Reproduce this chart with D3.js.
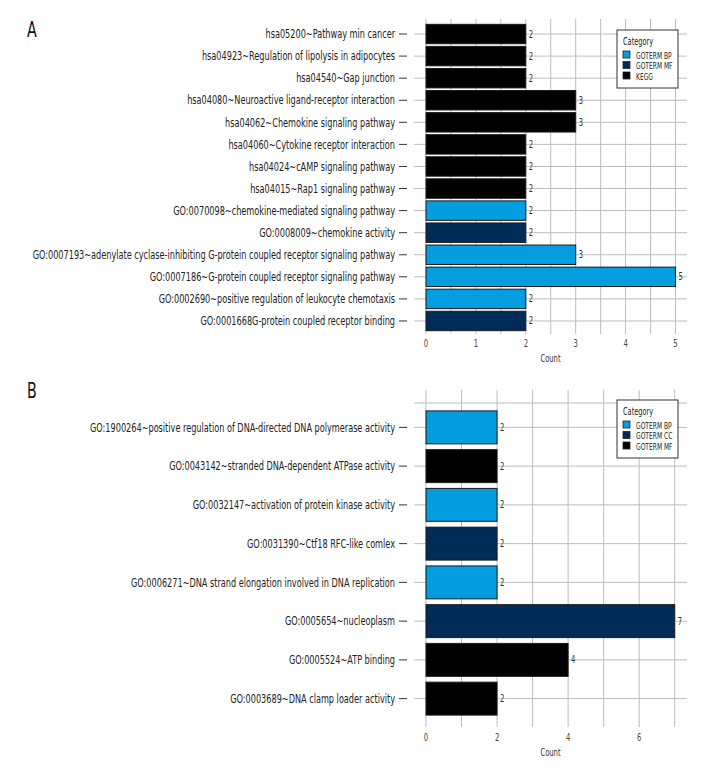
<!DOCTYPE html>
<html><head><meta charset="utf-8">
<script src="https://cdn.jsdelivr.net/npm/d3@7/dist/d3.min.js"></script>
<style>
body{margin:0;background:#fff;}
text{font-family:"DejaVu Sans Condensed","DejaVu Sans",sans-serif;}
</style></head>
<body><svg id="chart" width="720" height="780"></svg>
<script>
// ---------- Data ----------
const categoriesA = [
  "hsa05200~Pathway min cancer",
  "hsa04923~Regulation of lipolysis in adipocytes",
  "hsa04540~Gap junction",
  "hsa04080~Neuroactive ligand-receptor interaction",
  "hsa04062~Chemokine signaling pathway",
  "hsa04060~Cytokine receptor interaction",
  "hsa04024~cAMP signaling pathway",
  "hsa04015~Rap1 signaling pathway",
  "GO:0070098~chemokine-mediated signaling pathway",
  "GO:0008009~chemokine activity",
  "GO:0007193~adenylate cyclase-inhibiting G-protein coupled receptor signaling pathway",
  "GO:0007186~G-protein coupled receptor signaling pathway",
  "GO:0002690~positive regulation of leukocyte chemotaxis",
  "GO:0001668G-protein coupled receptor binding"
];
const countsA = [2,2,2,3,3,2,2,2,2,2,3,5,2,2];
const groupsA = ["KEGG","KEGG","KEGG","KEGG","KEGG","KEGG","KEGG","KEGG",
  "GOTERM BP","GOTERM MF","GOTERM BP","GOTERM BP","GOTERM BP","GOTERM MF"];
const legendA = ["GOTERM BP","GOTERM MF","KEGG"];
const ticksA = [0,1,2,3,4,5];

const categoriesB = [
  "GO:1900264~positive regulation of DNA-directed DNA polymerase activity",
  "GO:0043142~stranded DNA-dependent ATPase activity",
  "GO:0032147~activation of protein kinase activity",
  "GO:0031390~Ctf18 RFC-like comlex",
  "GO:0006271~DNA strand elongation involved in DNA replication",
  "GO:0005654~nucleoplasm",
  "GO:0005524~ATP binding",
  "GO:0003689~DNA clamp loader activity"
];
const countsB = [2,2,2,2,2,7,4,2];
const groupsB = ["GOTERM BP","GOTERM MF","GOTERM BP","GOTERM CC","GOTERM BP","GOTERM CC","GOTERM MF","GOTERM MF"];
const legendB = ["GOTERM BP","GOTERM CC","GOTERM MF"];
const ticksB = [0,2,4,6];

// ---------- Styles ----------
const colorA = d3.scaleOrdinal().domain(legendA).range(["#049ddf","#002c58","#000000"]);
const colorB = d3.scaleOrdinal().domain(legendB).range(["#049ddf","#002c58","#000000"]);
const K = 0.755;  // horizontal condensing of the narrow typeface
const KL = 0.7;   // legend condensing

const svg = d3.select("#chart");

function ctext(sel, x, y, k){
  k = k || K;
  return sel.attr("transform", (d,i)=>`translate(${typeof x==="function"?x(d,i):x},${typeof y==="function"?y(d,i):y}) scale(${k},1)`);
}

function panel(opt){
  const g = svg.append("g");
  const x = d3.scaleLinear().domain([0, opt.xmax]).range([426, opt.xEnd]);
  const y = d3.scaleBand().domain(opt.cats).range(opt.yRange)
      .paddingInner(opt.pin).paddingOuter(opt.pout);
  const left = 414, right = 687;
  const top = opt.panelTop, bottom = opt.panelBottom;
  const yc = d => y(d)+y.bandwidth()/2;

  g.append("g").selectAll("line").data(opt.grid).join("line")
    .attr("x1", d=>x(d)).attr("x2", d=>x(d))
    .attr("y1", top).attr("y2", bottom)
    .attr("stroke","#bdbdbd").attr("stroke-width",1);
  g.append("g").selectAll("line").data(opt.cats).join("line")
    .attr("x1", left).attr("x2", right)
    .attr("y1", yc).attr("y2", yc)
    .attr("stroke","#bdbdbd").attr("stroke-width",1);
  if (opt.extraTop) {
    g.append("line").attr("x1",left).attr("x2",right)
      .attr("y1",opt.extraTop).attr("y2",opt.extraTop)
      .attr("stroke","#bdbdbd").attr("stroke-width",1);
  }
  const data = opt.cats.map((c,i)=>({c, v:opt.vals[i], grp:opt.groups[i]}));
  g.append("g").selectAll("rect").data(data).join("rect")
    .attr("x", x(0)).attr("y", d=>y(d.c))
    .attr("width", d=>x(d.v)-x(0)).attr("height", y.bandwidth())
    .attr("fill", d=>opt.color(d.grp))
    .attr("stroke","#1a1a1a").attr("stroke-width",1);
  ctext(g.append("g").selectAll("text").data(data).join("text"),
        d=>x(d.v)+3, d=>yc(d.c))
    .attr("dy","0.35em").attr("font-size",10).attr("fill","#333")
    .text(d=>d.v);
  g.append("g").selectAll("line").data(opt.cats).join("line")
    .attr("x1",399).attr("x2",407)
    .attr("y1", yc).attr("y2", yc)
    .attr("stroke","#333").attr("stroke-width",1);
  ctext(g.append("g").selectAll("text").data(opt.cats).join("text"), 395, yc)
    .attr("dy","0.35em").attr("text-anchor","end")
    .attr("font-size",12).attr("fill","#222")
    .text(d=>d);
  ctext(g.append("g").selectAll("text").data(opt.ticks).join("text"), d=>x(d), opt.tickY)
    .attr("text-anchor","middle").attr("font-size",10).attr("fill","#444")
    .text(d=>d);
  ctext(g.append("text"), (left+right)/2, opt.tickY+15)
    .attr("text-anchor","middle").attr("font-size",10).attr("fill","#333")
    .text("Count");
  ctext(g.append("text"), 27, opt.letterY)
    .attr("font-size",21).attr("fill","#111").text(opt.letter);
  const lg = g.append("g").attr("transform",`translate(617,${opt.legendY})`);
  lg.append("rect").attr("width",61).attr("height",58)
    .attr("fill","#fff").attr("stroke","#333").attr("stroke-width",1);
  ctext(lg.append("text"), 6, 15, KL).attr("font-size",10.5).attr("fill","#222").text("Category");
  const items = lg.selectAll("g.item").data(opt.legend).join("g")
    .attr("transform",(d,i)=>`translate(6,${21+i*10.5})`);
  items.append("rect").attr("width",7).attr("height",7)
    .attr("fill",d=>opt.color(d)).attr("stroke","#222").attr("stroke-width",0.8);
  ctext(items.append("text"), 13, 7.5, KL).attr("font-size",9.5).attr("fill","#222").text(d=>d);
}

panel({
  letter:"A", letterY:37,
  cats:categoriesA, vals:countsA, groups:groupsA, color:colorA, legend:legendA,
  xmax:5, xEnd:675.5, yRange:[23,332], pin:0.12, pout:0.06,
  panelTop:19, panelBottom:334, grid:d3.range(0,5.01,0.5), ticks:ticksA,
  tickY:347, legendY:30
});
panel({
  letter:"B", letterY:398,
  cats:categoriesB, vals:countsB, groups:groupsB, color:colorB, legend:legendB,
  xmax:7, xEnd:674.7, yRange:[408,718], pin:0.15, pout:0.075,
  panelTop:390, panelBottom:727, grid:d3.range(0,7.01,1), ticks:ticksB,
  tickY:741, legendY:400, extraTop:403
});
</script></body></html>
